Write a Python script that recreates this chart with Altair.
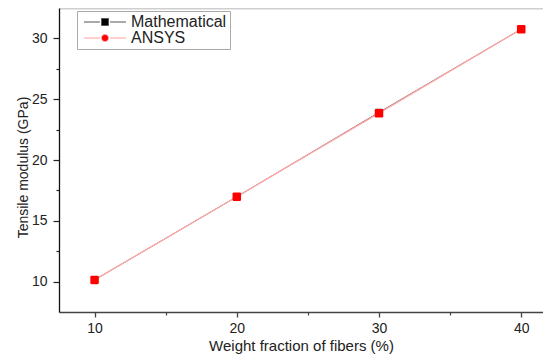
import altair as alt
import pandas as pd

# ---- data ----
fractions = [10, 20, 30, 40]
mathematical = [10.14, 16.98, 23.92, 30.76]
ansys = [10.14, 16.98, 23.85, 30.76]
series_names = ["Mathematical", "ANSYS"]
x_ticks = [10, 20, 30, 40]
x_minor = [15, 25, 35]
y_ticks = [10, 15, 20, 25, 30]
y_minor = [12.5, 17.5, 22.5, 27.5]
x_title = "Weight fraction of fibers (%)"
y_title = "Tensile modulus (GPa)"

df = pd.DataFrame({
    "fraction": fractions * 2,
    "value": mathematical + ansys,
    "series": [series_names[0]] * len(fractions) + [series_names[1]] * len(fractions),
})

FONT = "Liberation Sans"
ROUND_SQ = "M-1,-0.7Q-1,-1,-0.7,-1L0.7,-1Q1,-1,1,-0.7L1,0.7Q1,1,0.7,1L-0.7,1Q-1,1,-1,0.7Z"
LEG_SQ = "M-6,0L-1.45,0M1.45,0L6,0M-1,-1L1,-1L1,1L-1,1Z"
LEG_CI = "M-6,0L-1.45,0M1.45,0L6,0M1,0A1,1,0,1,1,-1,0A1,1,0,1,1,1,0Z"

xs = alt.Scale(domain=[7.5, 41.53], nice=False, zero=False)
ys = alt.Scale(domain=[7.5, 32.5], nice=False, zero=False)

base = alt.Chart(df)

main_x = alt.Axis(values=x_ticks, orient="bottom", tickSize=5, labelPadding=4,
                  labelFontSize=14, title=x_title, titleFontSize=15, titleY=38,
                  titleBaseline="alphabetic", titleFontWeight="normal",
                  domainColor="#444444", domainWidth=1.5, tickColor="#444444",
                  tickWidth=1.3, grid=False, format="d")
main_y = alt.Axis(values=y_ticks, orient="left", tickSize=6, labelPadding=6,
                  labelFontSize=14, title=y_title, titleFontSize=14, titleX=-32,
                  titleY=159, titleBaseline="alphabetic", titleFontWeight="normal",
                  domainColor="#111111", domainWidth=1.3, tickColor="#222222",
                  tickWidth=1.2, grid=False, format="d")
top_x = alt.Axis(orient="top", ticks=False, labels=False, title=None,
                 domainColor="#cfcfcf", domainWidth=2, grid=False)
minor_x = alt.Axis(orient="bottom", values=x_minor, tickSize=3, labels=False,
                   domain=False, title=None, grid=False, tickColor="#444444", tickWidth=1.2)
minor_y = alt.Axis(orient="left", values=y_minor, tickSize=3, labels=False,
                   domain=False, title=None, grid=False, tickColor="#222222", tickWidth=1.2)

math_line = base.transform_filter(alt.datum.series == series_names[0]).mark_line(
    color="#553333", strokeWidth=0.8
).encode(
    x=alt.X("fraction:Q", scale=xs, axis=main_x),
    y=alt.Y("value:Q", scale=ys, axis=main_y),
)
ansys_line = base.transform_filter(alt.datum.series == series_names[1]).mark_line(
    color="#ffa8a8", strokeWidth=1.3
).encode(
    x=alt.X("fraction:Q", scale=xs, axis=top_x),
    y=alt.Y("value:Q", scale=ys, axis=None),
)
math_pts = base.transform_filter(alt.datum.series == series_names[0]).mark_point(
    shape="square", filled=True, size=50, color="black", opacity=1
).encode(
    x=alt.X("fraction:Q", scale=xs, axis=minor_x),
    y=alt.Y("value:Q", scale=ys, axis=minor_y),
)
ansys_pts = base.transform_filter(alt.datum.series == series_names[1]).mark_point(
    shape=ROUND_SQ, filled=True, size=72, color="#ff0000", opacity=1
).encode(
    x=alt.X("fraction:Q", scale=xs, axis=None),
    y=alt.Y("value:Q", scale=ys, axis=None),
)

leg = alt.Legend(title=None, orient="none", legendX=18, legendY=3, direction="vertical",
                 strokeColor="#aaaaaa", fillColor="white", padding=3, symbolOffset=17,
                 labelOffset=18, rowPadding=0, labelFontSize=16, labelFont=FONT,
                 labelColor="#222222", symbolStrokeWidth=1, symbolSize=49, symbolOpacity=1)
legend_layer = base.transform_filter("false").mark_point(
    filled=True, opacity=1, strokeWidth=1
).encode(
    fill=alt.Fill("series:N", scale=alt.Scale(domain=series_names, range=["#000000", "#ff0000"]), legend=leg),
    stroke=alt.Stroke("series:N", scale=alt.Scale(domain=series_names, range=["#555555", "#ff9f9f"]), legend=leg),
    shape=alt.Shape("series:N", scale=alt.Scale(domain=series_names, range=[LEG_SQ, LEG_CI]), legend=leg),
)

chart = alt.layer(math_line, ansys_line, math_pts, ansys_pts, legend_layer).resolve_axis(
    x="independent", y="independent"
).properties(
    width=484, height=304,
    autosize=alt.AutoSizeParams(type="none"),
    padding={"left": 51, "top": 0, "right": 0, "bottom": 42},
).configure_view(strokeWidth=0).configure_axis(
    labelFont=FONT, titleFont=FONT, labelColor="#222222", titleColor="#222222"
)

chart.save("out.html", embed_options={"renderer": "svg", "actions": False})
